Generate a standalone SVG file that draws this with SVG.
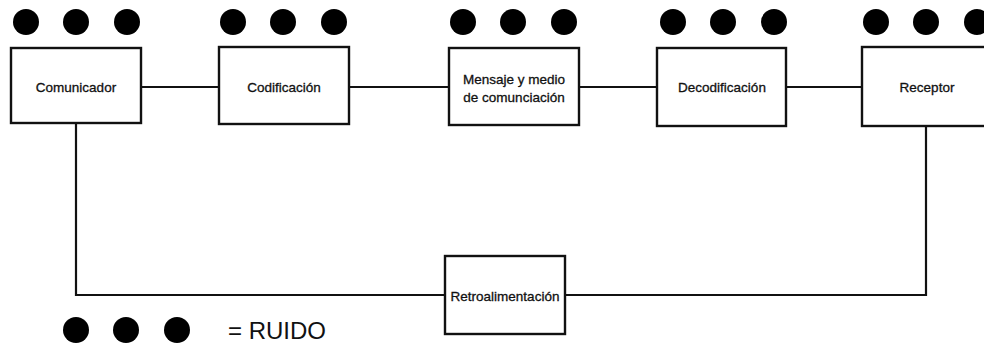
<svg xmlns="http://www.w3.org/2000/svg" width="984" height="344" viewBox="0 0 984 344">
  <style>
    .box { fill: #fff; stroke: #111; stroke-width: 2.4; }
    .wire { fill: none; stroke: #111; stroke-width: 2.2; }
    .lbl { font-family: "Liberation Sans", Arial, sans-serif; font-size: 13.5px; fill: #111; stroke: #111; stroke-width: 0.3; text-anchor: middle; }
    .noise { fill: #000; }
    .legend { font-family: "Liberation Sans", Arial, sans-serif; font-size: 24px; fill: #111; }
  </style>
  <defs>
    <g id="ruido">
      <circle class="noise" cx="0" cy="0" r="13"/>
      <circle class="noise" cx="50" cy="0" r="13"/>
      <circle class="noise" cx="101" cy="0" r="13"/>
    </g>
  </defs>
  <rect width="984" height="344" fill="#fff"/>

  <!-- connectors -->
  <g id="connectors">
    <path class="wire" d="M141 87 H219"/>
    <path class="wire" d="M349 87 H449"/>
    <path class="wire" d="M579 87 H657"/>
    <path class="wire" d="M786 87 H862"/>
    <path class="wire" d="M76 123 V295 H445"/>
    <path class="wire" d="M565 295 H926 V126"/>
  </g>

  <!-- noise markers above each stage -->
  <g id="noise">
    <use href="#ruido" x="26" y="22"/>
    <use href="#ruido" x="233" y="22"/>
    <use href="#ruido" x="463" y="22"/>
    <use href="#ruido" x="673" y="22"/>
    <use href="#ruido" x="876" y="22"/>
  </g>

  <g id="comunicador">
    <rect class="box" x="11" y="48" width="130" height="75"/>
    <text class="lbl" x="76" y="92">Comunicador</text>
  </g>
  <g id="codificacion">
    <rect class="box" x="219" y="47" width="130" height="77"/>
    <text class="lbl" x="284" y="92">Codificación</text>
  </g>
  <g id="mensaje">
    <rect class="box" x="449" y="48" width="130" height="77"/>
    <text class="lbl" x="514" y="84">Mensaje y  medio</text>
    <text class="lbl" x="514" y="102">de comunciación</text>
  </g>
  <g id="decodificacion">
    <rect class="box" x="657" y="48" width="129" height="78"/>
    <text class="lbl" x="722" y="92">Decodificación</text>
  </g>
  <g id="receptor">
    <rect class="box" x="862" y="47" width="130" height="79"/>
    <text class="lbl" x="927" y="92">Receptor</text>
  </g>
  <g id="retroalimentacion">
    <rect class="box" x="445" y="256" width="120" height="78"/>
    <text class="lbl" x="505" y="301">Retroalimentación</text>
  </g>

  <!-- legend -->
  <g id="legend">
    <use href="#ruido" x="76" y="330"/>
    <text class="legend" x="228" y="339">= RUIDO</text>
  </g>
</svg>
